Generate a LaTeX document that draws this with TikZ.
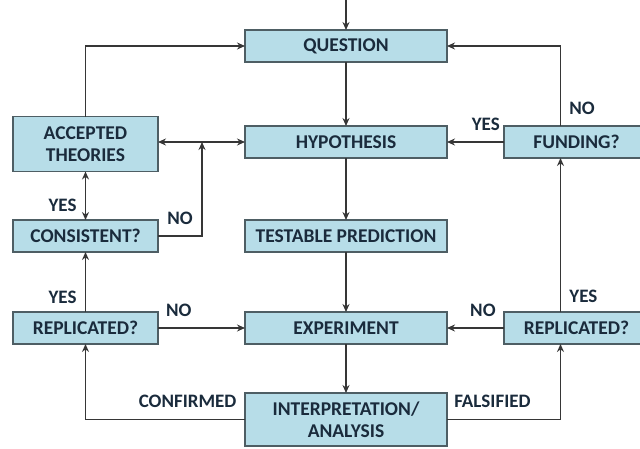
\documentclass[tikz,border=0pt]{standalone}
\usepackage{fontspec}
\setmainfont{Carlito}
\usetikzlibrary{arrows.meta, positioning}
\definecolor{boxfill}{HTML}{B7DDE8}
\definecolor{boxline}{HTML}{4E5E64}
\definecolor{lnc}{HTML}{363636}
\definecolor{txt}{HTML}{1A2B3C}
\begin{document}
\begin{tikzpicture}[
      box/.style={draw=boxline, fill=boxfill, line width=1.3pt, minimum height=32pt, minimum width=202pt, align=center, inner sep=2pt, outer sep=0pt, text=txt, font=\bfseries\fontsize{19.5}{22}\selectfont},
      side/.style={box, minimum width=145pt},
      arr/.style={-{Stealth[length=8pt, width=7pt]}, line width=1.9pt, draw=lnc},
      arr2/.style={{Stealth[length=8pt, width=7pt]}-{Stealth[length=8pt, width=7pt]}, line width=1.9pt, draw=lnc},
      lbl/.style={inner sep=1pt, text=txt, font=\bfseries\fontsize{19}{22}\selectfont},
    ]
    \useasboundingbox (0,0) rectangle (640pt,-448pt);

    \node[box] (question) at (346pt,-46pt) {QUESTION};
    \node[box, below=64pt of question] (hypothesis) {HYPOTHESIS};
    \node[box, below=62pt of hypothesis] (testable) {TESTABLE PREDICTION};
    \node[box, below=60pt of testable] (experiment) {EXPERIMENT};
    \node[box, below=49pt of experiment, minimum height=53pt] (interp) {INTERPRETATION/\\ANALYSIS};

    \node[side, left=87pt of hypothesis, yshift=-2pt, minimum height=55pt] (accepted) {ACCEPTED\\THEORIES};
    \node[side, left=87pt of testable] (consistent) {CONSISTENT?};
    \node[side, left=87pt of experiment] (replicL) {REPLICATED?};

    \node[side, right=57pt of hypothesis] (funding) {FUNDING?};
    \node[side, right=57pt of experiment] (replicR) {REPLICATED?};

    \coordinate[above=30pt of question] (start);
    \path (accepted.east) ++(44pt,0) coordinate (nocol);

    % main column
    \draw[arr] (start) -- (question);
    \draw[arr] (question) -- (hypothesis);
    \draw[arr] (hypothesis) -- (testable);
    \draw[arr] (testable) -- (experiment);
    \draw[arr] (experiment) -- (interp);

    % left loop
    \draw[arr] (accepted.north) |- (question.west);
    \draw[arr2] (accepted.east |- hypothesis.west) -- (hypothesis.west);
    \draw[arr2] (accepted.south) -- node[lbl, pos=0.7, left=7pt] (yesA) {YES} (consistent.north);
    \draw[arr] (consistent.east) -| node[lbl, pos=0.25, above=9pt] (noA) {NO} (nocol |- hypothesis.west);
    \draw[arr] (replicL.north) -- node[lbl, pos=0.25, left=7pt] (yesB) {YES} (consistent.south);
    \draw[arr] (replicL.east) -- node[lbl, pos=0.24, above=9pt] (noB) {NO} (experiment.west);
    \draw[arr] (interp.west) -| node[lbl, pos=0.18, above=10pt] (conf) {CONFIRMED} (replicL.south);

    % right loop
    \draw[arr] (interp.east) -| node[lbl, pos=0.2, above=10pt] (fals) {FALSIFIED} ([xshift=-16pt]replicR.south);
    \draw[arr] (replicR.west) -- node[lbl, pos=0.37, above=9pt] (noC) {NO} (experiment.east);
    \draw[arr] ([xshift=-16pt]replicR.north) -- node[lbl, pos=0.1, right=7pt] (yesC) {YES} ([xshift=-16pt]funding.south);
    \draw[arr] (funding.west) -- node[lbl, pos=0.32, above=9pt] (yesD) {YES} (hypothesis.east);
    \draw[arr] ([xshift=-16pt]funding.north) |- node[lbl, pos=0.11, right=7pt] (noD) {NO} (question.east);
  \end{tikzpicture}
\end{document}
